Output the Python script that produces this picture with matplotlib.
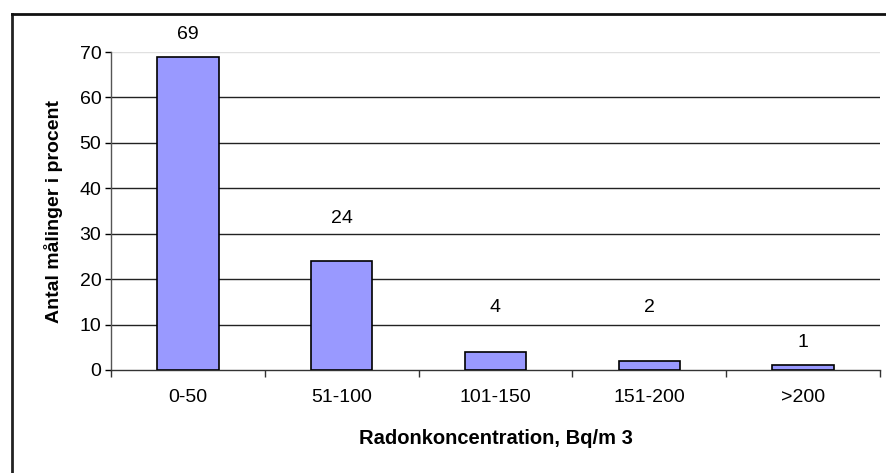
import matplotlib

matplotlib.use("Agg")
import matplotlib.pyplot as plt
from matplotlib.lines import Line2D

categories = ["0-50", "51-100", "101-150", "151-200", ">200"]
values = [69, 24, 4, 2, 1]
# pixel gap between bar top and its value label, as placed in the original
label_gap = [22, 42, 44, 53, 23]
yticks = [0, 10, 20, 30, 40, 50, 60, 70]

plt.rcParams["font.family"] = ["Liberation Sans", "DejaVu Sans"]

fig = plt.figure(figsize=(8.86, 4.73), dpi=100)
ax = fig.add_axes([111 / 886, 1 - 370 / 473, (880 - 111) / 886, (370 - 52) / 473])

x = range(len(categories))
ax.bar(x, values, width=0.4, color="#9999ff", edgecolor="black", linewidth=1.2, zorder=3)
for xi, v, g in zip(x, values, label_gap):
    ax.annotate(str(v), (xi, v), xytext=(0, g), textcoords="offset pixels",
                ha="center", va="center", fontsize=14)

ax.set_xlim(-0.5, len(categories) - 0.5)
ax.set_ylim(0, 70)
ax.set_yticks(yticks)
ax.set_xticks(x)
ax.set_xticklabels(categories, fontsize=14)
ax.tick_params(axis="y", labelsize=14, length=4, width=1, pad=3)
ax.tick_params(axis="x", length=0, pad=14)
# category separator ticks
ax.set_xticks([i + 0.5 for i in range(-1, len(categories))], minor=True)
ax.tick_params(axis="x", which="minor", length=5, width=1, color="#333333")

for yv in yticks[1:-1]:
    ax.axhline(yv, color="#222222", lw=1, zorder=1)
ax.axhline(70, color="#e0e0e0", lw=1, zorder=1)

for s in ["top", "right"]:
    ax.spines[s].set_visible(False)
ax.spines["left"].set_color("#555555")
ax.spines["bottom"].set_color("#333333")
ax.spines["left"].set_linewidth(1)
ax.spines["bottom"].set_linewidth(1)

ax.set_ylabel("Antal målinger i procent", fontsize=14, fontweight="bold", labelpad=12)
ax.set_xlabel("Radonkoncentration, Bq/m 3", fontsize=14.5, fontweight="bold", labelpad=16)

# outer chart border (left and top visible)
fig.add_artist(Line2D([12 / 886, 12 / 886], [0, 1 - 14 / 473], color="#222222", lw=2))
fig.add_artist(Line2D([12 / 886, 1], [1 - 14 / 473, 1 - 14 / 473], color="#111111", lw=2))

fig.savefig("out.png", dpi=100)
